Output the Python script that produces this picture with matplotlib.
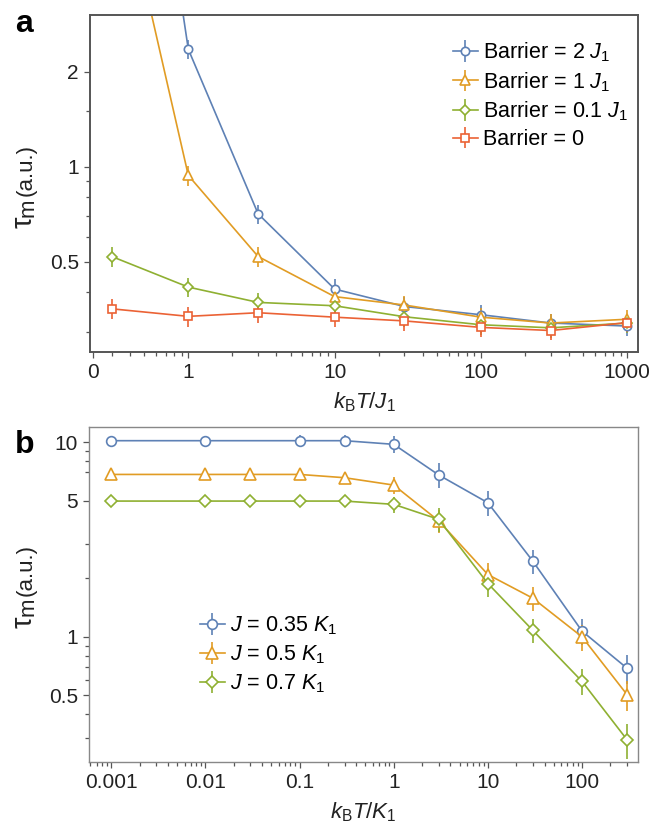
import matplotlib
matplotlib.use("Agg")
import matplotlib.pyplot as plt
from matplotlib.ticker import FixedLocator, NullFormatter, LogLocator

plt.rcParams['font.family'] = ['Liberation Sans', 'DejaVu Sans']
plt.rcParams['mathtext.fontset'] = 'custom'
plt.rcParams['mathtext.rm'] = 'Liberation Sans'
plt.rcParams['mathtext.it'] = 'Liberation Sans:italic'
plt.rcParams['mathtext.bf'] = 'Liberation Sans:bold'

# colours (Mathematica-style defaults)
blue = "#5e81b5"
orange = "#e19c24"
green = "#8fb032"
red = "#eb6235"

# ---- panel a data ----
temp_a = [0.3, 1, 3, 10, 30, 100, 300, 1000]
barrier_2 = [100, 2.36, 0.71, 0.41, 0.361, 0.34, 0.32, 0.313]
barrier_2_err = [7, 0.16, 0.05, 0.03, 0.025, 0.024, 0.022, 0.022]
barrier_1 = [10.8, 0.94, 0.52, 0.388, 0.365, 0.334, 0.32, 0.329]
barrier_1_err = [0.8, 0.07, 0.037, 0.027, 0.026, 0.023, 0.022, 0.024]
barrier_01 = [0.52, 0.416, 0.372, 0.363, 0.335, 0.316, 0.309, 0.32]
barrier_01_err = [0.037, 0.03, 0.026, 0.025, 0.024, 0.022, 0.022, 0.022]
barrier_0 = [0.355, 0.336, 0.345, 0.334, 0.325, 0.31, 0.303, 0.321]
barrier_0_err = [0.025, 0.024, 0.024, 0.023, 0.023, 0.022, 0.021, 0.022]

# ---- panel b data ----
temp_b_blue = [0.001, 0.01, 0.1, 0.3, 1, 3, 10, 30, 100, 300]
temp_b = [0.001, 0.01, 0.03, 0.1, 0.3, 1, 3, 10, 30, 100, 300]
j_035 = [10.2, 10.2, 10.2, 10.2, 9.77, 6.8, 4.89, 2.45, 1.07, 0.69]
j_035_err = [0.2, 0.3, 0.7, 0.7, 1.0, 1.0, 0.7, 0.35, 0.16, 0.12]
j_05 = [6.84, 6.84, 6.84, 6.84, 6.58, 6.03, 3.95, 2.09, 1.58, 1.0, 0.505]
j_05_err = [0.2, 0.2, 0.2, 0.45, 0.45, 0.6, 0.55, 0.3, 0.22, 0.15, 0.09]
j_07 = [4.99, 4.99, 4.99, 4.99, 4.99, 4.80, 4.02, 1.88, 1.08, 0.59, 0.296]
j_07_err = [0.15, 0.15, 0.15, 0.2, 0.3, 0.45, 0.55, 0.27, 0.15, 0.09, 0.06]

W, H = 650, 831
fig = plt.figure(figsize=(W / 100, H / 100), dpi=100)
ax_a = fig.add_axes([0.1385, 0.5764, 0.843, 0.4055])
ax_b = fig.add_axes([0.137, 0.0830, 0.8445, 0.4032])


def series(ax, x, y, err, color, marker, ms, label):
    ax.errorbar(x, y, yerr=err, color=color, marker=marker, ms=ms, mfc="white",
                mec=color, mew=1.2, lw=1.2, elinewidth=1.2, capsize=0, label=label)


def style(ax, spine_color, spine_lw):
    ax.set_xscale("log")
    ax.set_yscale("log")
    for side in ["left", "bottom", "right", "top"]:
        ax.spines[side].set_color(spine_color)
        ax.spines[side].set_linewidth(spine_lw)
    ax.tick_params(which="both", direction="out", top=False, right=False,
                   colors="#555555", labelcolor="#222222", labelsize=15)
    ax.tick_params(which="major", length=4, width=0.9, pad=4)
    ax.tick_params(which="minor", length=2.6, width=0.9)


def tau_label(x_px, y_px):
    # rotated "τm (a.u.)" built from pieces so τ can be a bit larger
    renderer = fig.canvas.get_renderer()
    y = y_px
    for txt, size, shift, gap in [("τ", 21, 0, 0), ("m", 16, 1.5, 2), ("(a.u.)", 16, 0, 0)]:
        t = fig.text((x_px + shift) / W, 1 - y / H, txt, fontsize=size, rotation=90,
                     rotation_mode="anchor", ha="left", va="baseline", color="#222222")
        y -= t.get_window_extent(renderer).height + gap


# panel a
series(ax_a, temp_a, barrier_2, barrier_2_err, blue, "o", 6, r"Barrier = 2 $J_1$")
series(ax_a, temp_a, barrier_1, barrier_1_err, orange, "^", 7, r"Barrier = 1 $J_1$")
series(ax_a, temp_a, barrier_01, barrier_01_err, green, "D", 5.5, r"Barrier = 0.1 $J_1$")
series(ax_a, temp_a, barrier_0, barrier_0_err, red, "s", 6, "Barrier = 0")
style(ax_a, "#555555", 1.4)
ax_a.set_xlim(0.213, 1183)
ax_a.set_ylim(0.259, 3.03)
ax_a.xaxis.set_major_locator(FixedLocator([0.222, 1, 10, 100, 1000]))
ax_a.set_xticklabels(["0", "1", "10", "100", "1000"])
ax_a.xaxis.set_minor_locator(LogLocator(base=10, subs=range(2, 10)))
ax_a.xaxis.set_minor_formatter(NullFormatter())
ax_a.yaxis.set_major_locator(FixedLocator([0.5, 1, 2]))
ax_a.set_yticklabels(["0.5", "1", "2"])
ax_a.yaxis.set_minor_locator(FixedLocator([0.3, 0.4, 0.6, 0.7, 0.8, 0.9, 1.5]))
ax_a.yaxis.set_minor_formatter(NullFormatter())
ax_a.set_xlabel(r"$k_\mathrm{B}T/J_1$", fontsize=16, labelpad=6, color="#222222")
ax_a.legend(loc="upper left", bbox_to_anchor=(0.662, 0.925), frameon=False,
            fontsize=15.5, handlelength=1.15, handletextpad=0.25, labelspacing=0.28,
            borderpad=0, borderaxespad=0)

# panel b
series(ax_b, temp_b_blue, j_035, j_035_err, blue, "o", 7, r"$J$ = 0.35 $K_1$")
series(ax_b, temp_b, j_05, j_05_err, orange, "^", 8.5, r"$J$ = 0.5 $K_1$")
series(ax_b, temp_b, j_07, j_07_err, green, "D", 6.5, r"$J$ = 0.7 $K_1$")
style(ax_b, "#888888", 1.0)
ax_b.set_xlim(5.8e-4, 393)
ax_b.set_ylim(0.227, 12)
ax_b.xaxis.set_major_locator(FixedLocator([0.001, 0.01, 0.1, 1, 10, 100]))
ax_b.set_xticklabels(["0.001", "0.01", "0.1", "1", "10", "100"])
ax_b.xaxis.set_minor_locator(LogLocator(base=10, subs=range(2, 10)))
ax_b.xaxis.set_minor_formatter(NullFormatter())
ax_b.yaxis.set_major_locator(FixedLocator([0.5, 1, 5, 10]))
ax_b.set_yticklabels(["0.5", "1", "5", "10"])
ax_b.yaxis.set_minor_locator(FixedLocator([0.3, 0.4, 0.6, 0.7, 0.8, 0.9, 2, 3, 7, 8, 9]))
ax_b.yaxis.set_minor_formatter(NullFormatter())
ax_b.set_xlabel(r"$k_\mathrm{B}T/K_1$", fontsize=16, labelpad=6, color="#222222")
ax_b.legend(loc="upper left", bbox_to_anchor=(0.202, 0.44), frameon=False,
            fontsize=15.5, handlelength=1.15, handletextpad=0.25, labelspacing=0.3,
            borderpad=0, borderaxespad=0)

tau_label(32, 228)
tau_label(32, 628)

fig.text(0.023, 0.962, "a", fontsize=23, fontweight="bold")
fig.text(0.023, 0.455, "b", fontsize=23, fontweight="bold")

fig.savefig("out.png", dpi=100)
